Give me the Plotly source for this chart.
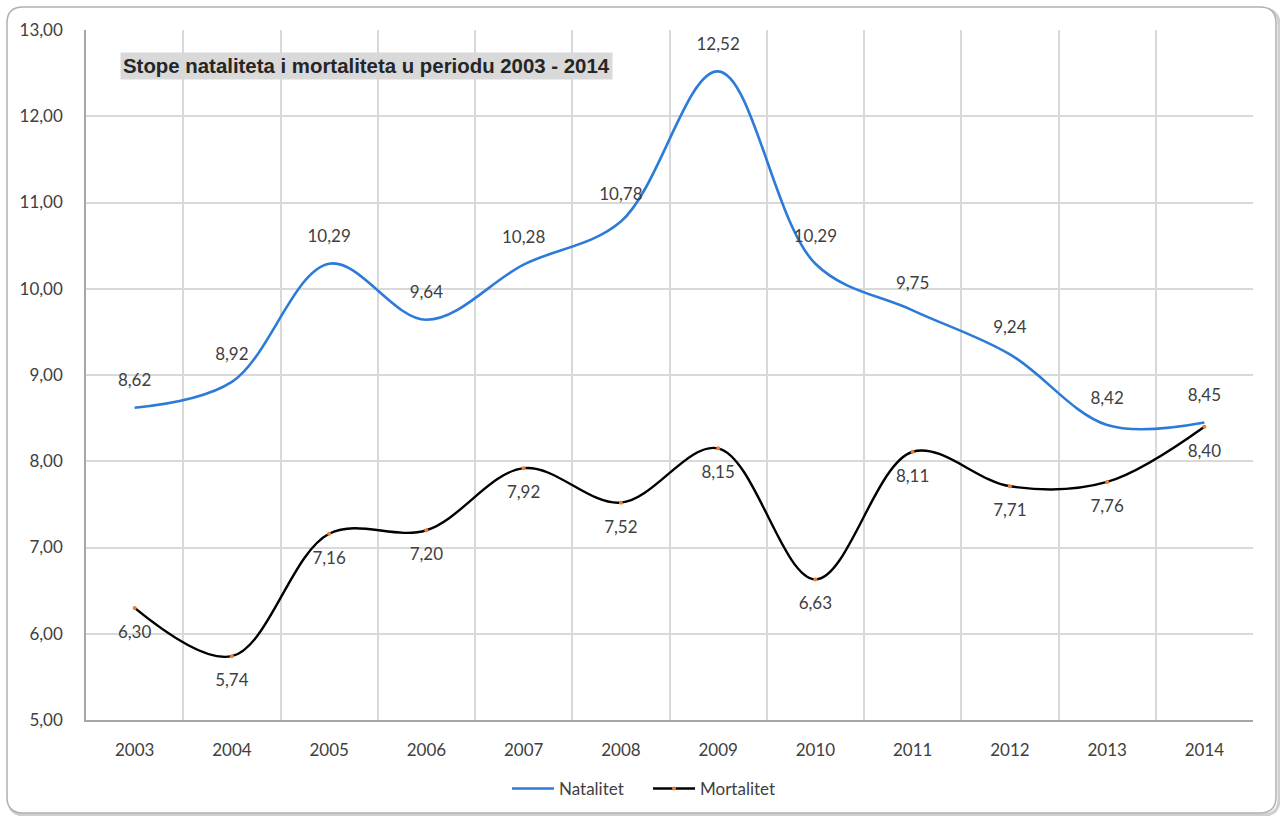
import plotly.graph_objects as go

years = ["2003", "2004", "2005", "2006", "2007", "2008", "2009", "2010", "2011", "2012", "2013", "2014"]
natalitet = [8.62, 8.92, 10.29, 9.64, 10.28, 10.78, 12.52, 10.29, 9.75, 9.24, 8.42, 8.45]
mortalitet = [6.30, 5.74, 7.16, 7.20, 7.92, 7.52, 8.15, 6.63, 8.11, 7.71, 7.76, 8.40]
title_text = "Stope nataliteta i mortaliteta u periodu 2003 - 2014"

def fmt(v):
    return f"{v:.2f}".replace(".", ",")

FONT = "Lato, Carlito, sans-serif"
label_font = dict(family=FONT, size=17, color="#404040")
tick_font = dict(family=FONT, size=17, color="#404040")

W, H = 1280, 816
L, R, T, B = 86, 1253, 30, 720   # plot area in pixels

fig = go.Figure()
fig.add_trace(go.Scatter(
    x=years, y=natalitet, name="Natalitet", mode="lines",
    line=dict(color="#2C7BD8", width=2.6, shape="spline", smoothing=1.0),
))
fig.add_trace(go.Scatter(
    x=years, y=mortalitet, name="Mortalitet", mode="lines+markers",
    line=dict(color="#000000", width=2.4, shape="spline", smoothing=1.0),
    marker=dict(size=4, color="#ED7D31"),
))
# data labels (invisible larger markers give the offset)
fig.add_trace(go.Scatter(
    x=years, y=natalitet, mode="markers+text", showlegend=False, hoverinfo="skip",
    marker=dict(size=26, opacity=0),
    text=[fmt(v) for v in natalitet], textposition="top center",
    textfont=label_font, cliponaxis=False,
))
fig.add_trace(go.Scatter(
    x=years, y=mortalitet, mode="markers+text", showlegend=False, hoverinfo="skip",
    marker=dict(size=26, opacity=0),
    text=[fmt(v) for v in mortalitet], textposition="bottom center",
    textfont=label_font, cliponaxis=False,
))

def px(x):
    return (x - L) / (R - L)
def py(y):
    return (B - y) / (B - T)

def rrect(x0, y0, x1, y1, r):
    def P(x, y):
        return f"{px(x):.5f},{py(y):.5f}"
    return (f"M{P(x0+r,y0)} L{P(x1-r,y0)} Q{P(x1,y0)} {P(x1,y0+r)} L{P(x1,y1-r)} "
            f"Q{P(x1,y1)} {P(x1-r,y1)} L{P(x0+r,y1)} Q{P(x0,y1)} {P(x0,y1-r)} "
            f"L{P(x0,y0+r)} Q{P(x0,y0)} {P(x0+r,y0)} Z")

shapes = [
    dict(type="path", xref="paper", yref="paper", layer="below",
         path=rrect(9, 9, 1279, 815, 16),
         line=dict(color="#cfcfcf", width=3), fillcolor="rgba(0,0,0,0)"),
    dict(type="path", xref="paper", yref="paper", layer="below",
         path=rrect(7, 7, 1276, 813, 16),
         line=dict(color="#b0b0b0", width=1.5), fillcolor="white"),
]

fig.update_layout(
    width=W, height=H,
    paper_bgcolor="white", plot_bgcolor="rgba(0,0,0,0)",
    margin=dict(l=L, r=W - R, t=T, b=H - B, autoexpand=False),
    showlegend=True,
    legend=dict(orientation="h", x=px(648), xanchor="center", y=py(789), yanchor="middle",
                font=dict(family=FONT, size=17, color="#404040"),
                itemwidth=42, entrywidth=84, tracegroupgap=0),
    xaxis=dict(type="category", tickson="boundaries", showgrid=True, gridcolor="#d9d9d9", gridwidth=1.5,
               showline=True, linecolor="#a6a6a6", linewidth=1.5, ticks="", ticklen=0,
               tickfont=tick_font, range=[-0.5, 11.5], automargin=False, ticklabelstandoff=14),
    yaxis=dict(range=[5, 13], dtick=1, tickformat=".2f", showgrid=True, gridcolor="#d9d9d9", gridwidth=1.5,
               showline=True, linecolor="#a6a6a6", linewidth=1.5, zeroline=False, ticks="",
               tickfont=tick_font, automargin=False, ticklabelstandoff=18),
    separators=",.",
    shapes=shapes,
    annotations=[dict(text="<b>" + title_text + "</b>", xref="paper", yref="paper",
                      x=px(120), y=py(52), xanchor="left", yanchor="top", showarrow=False,
                      bgcolor="#d9d9d9", borderpad=2,
                      font=dict(family="Liberation Sans, Arial, sans-serif", size=20.4, color="#262626"))],
)

fig.write_html("out.html", config={"displayModeBar": False},
               post_script="document.body.style.margin='0';")
